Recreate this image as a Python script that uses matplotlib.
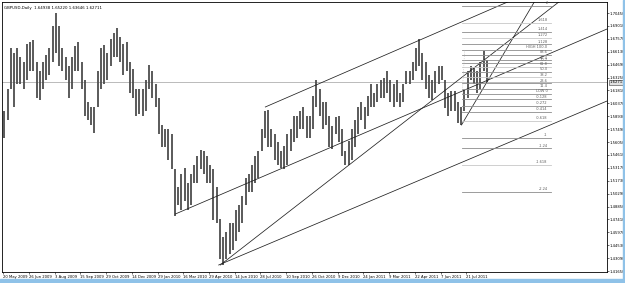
import matplotlib
matplotlib.use("Agg")
import matplotlib.pyplot as plt

# GBPUSD daily, grouped 4 bars per entry (high / low)
grp_hi = [1.595, 1.620, 1.665, 1.660, 1.665, 1.655, 1.650, 1.670,
          1.672, 1.674, 1.650, 1.640, 1.650, 1.658, 1.665, 1.690,
          1.7045, 1.690, 1.665, 1.655, 1.645, 1.655, 1.668, 1.672,
          1.650, 1.630, 1.605, 1.600, 1.600, 1.640, 1.665, 1.669,
          1.660, 1.675, 1.682, 1.688, 1.678, 1.670, 1.672, 1.650,
          1.642, 1.620, 1.620, 1.620, 1.630, 1.646, 1.640, 1.625,
          1.610, 1.580, 1.575, 1.575, 1.570, 1.530, 1.510, 1.525,
          1.532, 1.515, 1.525, 1.535, 1.545, 1.552, 1.550, 1.545,
          1.535, 1.530, 1.510, 1.475, 1.455, 1.460, 1.470, 1.470,
          1.485, 1.490, 1.500, 1.520, 1.525, 1.535, 1.545, 1.551,
          1.575, 1.595, 1.596, 1.575, 1.570, 1.560, 1.550, 1.556,
          1.570, 1.575, 1.590, 1.590, 1.595, 1.600, 1.590, 1.590,
          1.612, 1.630, 1.620, 1.605, 1.605, 1.590, 1.578, 1.588,
          1.590, 1.575, 1.550, 1.562, 1.575, 1.585, 1.600, 1.605,
          1.600, 1.612, 1.625, 1.615, 1.625, 1.630, 1.632, 1.640,
          1.630, 1.625, 1.630, 1.615, 1.625, 1.640, 1.640, 1.650,
          1.665, 1.675, 1.660, 1.650, 1.635, 1.630, 1.640, 1.645,
          1.645, 1.630, 1.615, 1.618, 1.617, 1.605, 1.600, 1.619,
          1.640, 1.645, 1.643, 1.640, 1.650, 1.662, 1.652]
grp_lo = [1.565, 1.585, 1.620, 1.600, 1.625, 1.625, 1.620, 1.630,
          1.640, 1.640, 1.610, 1.607, 1.620, 1.630, 1.635, 1.650,
          1.660, 1.645, 1.640, 1.630, 1.610, 1.620, 1.640, 1.640,
          1.620, 1.590, 1.585, 1.580, 1.571, 1.600, 1.620, 1.625,
          1.630, 1.645, 1.655, 1.655, 1.650, 1.635, 1.640, 1.615,
          1.610, 1.590, 1.592, 1.590, 1.595, 1.620, 1.610, 1.600,
          1.570, 1.555, 1.555, 1.540, 1.530, 1.478, 1.490, 1.485,
          1.495, 1.485, 1.490, 1.515, 1.515, 1.530, 1.525, 1.515,
          1.515, 1.473, 1.470, 1.430, 1.423, 1.430, 1.435, 1.440,
          1.450, 1.460, 1.470, 1.490, 1.505, 1.505, 1.515, 1.520,
          1.550, 1.565, 1.555, 1.555, 1.540, 1.535, 1.532, 1.530,
          1.535, 1.550, 1.560, 1.565, 1.575, 1.575, 1.565, 1.565,
          1.575, 1.600, 1.590, 1.575, 1.580, 1.555, 1.553, 1.570,
          1.560, 1.545, 1.535, 1.535, 1.540, 1.555, 1.570, 1.585,
          1.575, 1.590, 1.600, 1.600, 1.605, 1.610, 1.610, 1.615,
          1.605, 1.600, 1.605, 1.600, 1.605, 1.625, 1.625, 1.630,
          1.640, 1.645, 1.630, 1.620, 1.610, 1.607, 1.615, 1.625,
          1.630, 1.598, 1.590, 1.595, 1.595, 1.582, 1.5795, 1.595,
          1.610, 1.630, 1.625, 1.615, 1.620, 1.640, 1.627]
bars_per_grp = 4

date_labels = ["20 May 2009", "26 Jun 2009", "3 Aug 2009", "15 Sep 2009",
               "29 Oct 2009", "14 Dec 2009", "29 Jan 2010", "16 Mar 2010",
               "29 Apr 2010", "14 Jun 2010", "28 Jul 2010", "10 Sep 2010",
               "26 Oct 2010", "9 Dec 2010", "24 Jan 2011", "9 Mar 2011",
               "22 Apr 2011", "7 Jun 2011", "21 Jul 2011"]
bars_per_label = 32

price_ticks = [1.41650, 1.43090, 1.44530, 1.45970, 1.47410, 1.48850, 1.50290,
               1.51730, 1.53170, 1.54610, 1.56050, 1.57490, 1.58930, 1.60370,
               1.61810, 1.63250, 1.64690, 1.66130, 1.67570, 1.69010, 1.70450]

last_bid = 1.62711
title = "GBPUSD,Daily  1.64938 1.65220 1.63646 1.62711"

# trend lines: (bar, price) anchor pairs, drawn as rays to the right
trend_lines = [
    ((326, 1.5996), (633, 1.7190)),
    ((214, 1.4801), (754, 1.6878)),
    ((268, 1.4232), (754, 1.6074)),
    ((270, 1.4232), (683, 1.7112)),
    ((570, 1.5795), (662, 1.7190)),
]

# fibonacci object
fib_low, fib_high = 1.6145, 1.6635
fib_x0, fib_x1 = 571, 681
fib_levels = [2.0, 1.618, 1.414, 1.272, 1.128, 1.0, 0.886, 0.764, 0.707,
              0.618, 0.5, 0.382, 0.236, 0.114, 0.0, -0.128, -0.272, -0.414,
              -0.618, -1.0, -1.236, -1.618, -2.236]
fib_labels = ["2", "1.618", "1.414", "1.272", "1.128", "HIGH 100.0", "88.6",
              "76.4", "70.7", "61.8", "50.0", "38.2", "23.6", "11.4", "LOW 0",
              "-0.128", "-0.272", "-0.414", "-0.618", "-1", "-1.24", "-1.618",
              "-2.24"]
fib_light = {1.618, 1.272, 0.618, 0.382, -0.618, -1.618}

W, H = 625, 283
fig = plt.figure(figsize=(W / 100, H / 100), dpi=100)
fig.patch.set_facecolor("white")
ax = fig.add_axes([2 / W, 11 / H, 605 / W, 270 / H])

xs = [g * bars_per_grp + 1.5 for g in range(len(grp_hi))]
ax.vlines(xs, grp_lo, grp_hi, colors="#4d4d4d", lw=1.3)

ax.axhline(last_bid, color="#b0b0b0", lw=0.6, zorder=1)

for (x0, y0), (x1, y1) in trend_lines:
    k = (y1 - y0) / (x1 - x0)
    ax.plot([x0, 900], [y0, y0 + k * (900 - x0)], color="#202020", lw=0.55)

rng = fib_high - fib_low
for lev, lab in zip(fib_levels, fib_labels):
    p = fib_low + lev * rng
    col = "#c8c8c8" if lev in fib_light else "#8c8c8c"
    ax.plot([fib_x0, fib_x1], [p, p], color=col, lw=0.6)
    ax.text(fib_x1 - 4, p + 0.0004, lab, fontsize=2.6, color="#606060",
            ha="right", va="bottom")
ax.plot([fib_x0, fib_x0 + 3], [fib_low, fib_high], color="#c0c0c0",
        lw=0.5, ls=":")

ax.set_xlim(-1.5, 751)
ax.set_ylim(1.4154, 1.7168)

ax.set_xticks([i * bars_per_label for i in range(len(date_labels))])
ax.set_xticklabels(date_labels, fontsize=2.7, ha="left")
ax.yaxis.tick_right()
ax.set_yticks(price_ticks)
ax.set_yticklabels([f"{v:.5f}" for v in price_ticks], fontsize=2.7)
ax.tick_params(axis="both", length=1.2, width=0.4, pad=0.8, colors="#000000")
for s in ax.spines.values():
    s.set_linewidth(0.6)
    s.set_color("#000000")

ax.text(1.004, last_bid, f"{last_bid:.5f}", transform=ax.get_yaxis_transform(),
        fontsize=2.7, va="center", ha="left", color="black",
        bbox=dict(boxstyle="square,pad=0.15", fc="#e0e0e0", ec="#404040", lw=0.4))

ax.text(2 / 605, 0.985, title, transform=ax.transAxes, fontsize=2.8,
        va="top", ha="left")

# window frame
fig.patches.append(plt.Rectangle((0, 0), 1, 4 / H, transform=fig.transFigure,
                                 color="#8fc2e8", zorder=0))
fig.patches.append(plt.Rectangle((623 / W, 0), 2 / W, 1, transform=fig.transFigure,
                                 color="#8fc2e8", zorder=0))

fig.savefig("out.png", dpi=100)
